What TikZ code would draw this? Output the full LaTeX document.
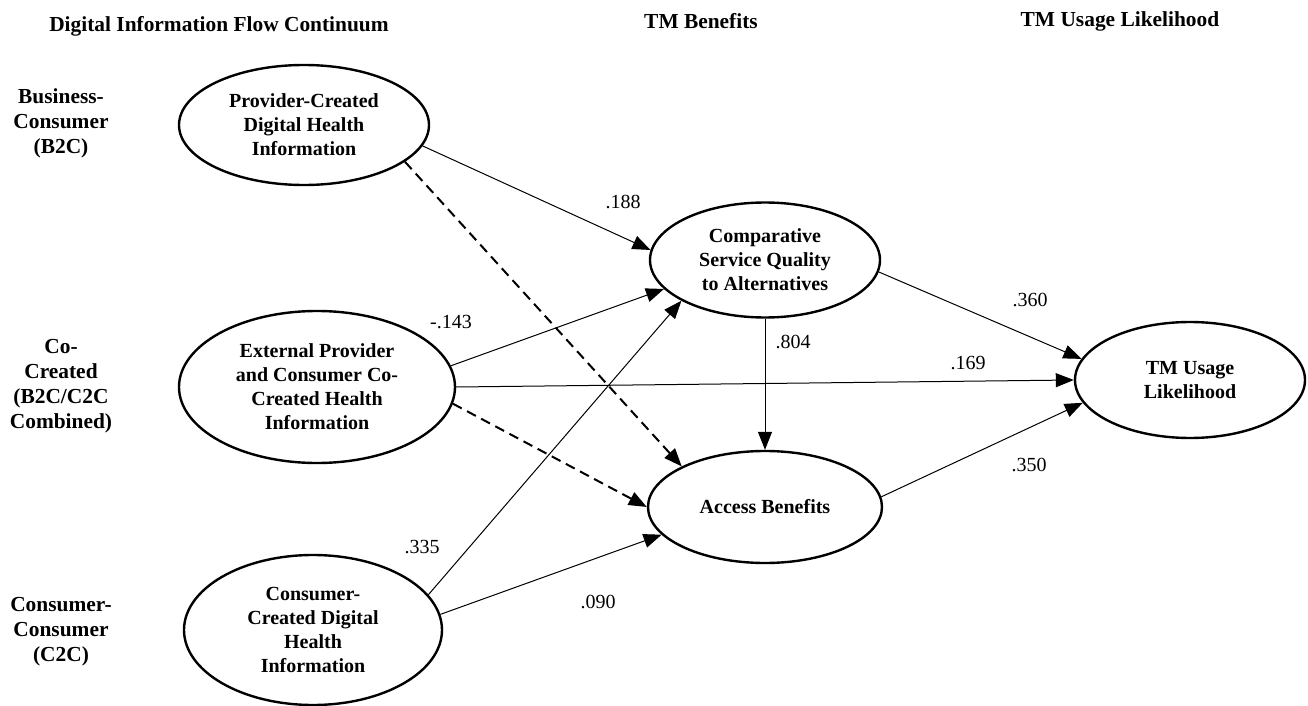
\documentclass[tikz,border=0pt]{standalone}
\usepackage{fontspec}
\setmainfont{Liberation Serif}
\usetikzlibrary{arrows.meta,positioning,shapes.geometric}

\begin{document}
\begin{tikzpicture}[x=0.5pt, y=-0.5pt, >={Triangle[length=9pt,width=7pt]},
  font=\fontsize{10}{12}\selectfont,
  construct/.style={ellipse, draw, line width=1.2pt, inner sep=0pt, align=center, font=\fontsize{10}{12}\selectfont\bfseries},
  heading/.style={align=center, font=\fontsize{10.7}{12.5}\selectfont\bfseries},
  coef/.style={inner sep=0pt},
  sigpath/.style={->, line width=0.5pt},
  nspath/.style={->, line width=1pt, dash pattern=on 5pt off 3pt}]

  \useasboundingbox (0,0) rectangle (1308,706);

  % Column and row headings
  \node[heading] (hflow) at (219, 26) {Digital Information Flow Continuum};
  \node[heading] (hben) at (701, 21) {TM Benefits};
  \node[heading] (huse) at (1120, 21) {TM Usage Likelihood};
  \node[heading] (rB2C) at (61, 123) {Business-\\Consumer\\(B2C)};
  \node[heading] (rCo) at (61, 386) {Co-\\Created\\(B2C/C2C\\Combined)};
  \node[heading] (rC2C) at (61, 632) {Consumer-\\Consumer\\(C2C)};

  % Define constructs
  \node[construct, minimum width=125pt, minimum height=60pt] (PC) at (304, 125) {Provider-Created\\Digital Health\\Information};
  \node[construct, minimum width=138pt, minimum height=76pt] (CoC) at (317, 387) {External Provider\\and Consumer Co-\\Created Health\\Information};
  \node[construct, minimum width=129pt, minimum height=75pt] (CC) at (313, 630) {Consumer-\\Created Digital\\Health\\Information};
  \node[construct, minimum width=115pt, minimum height=57.5pt] (CSQ) at (765, 260) {Comparative\\Service Quality\\to Alternatives};
  \node[construct, minimum width=117pt, minimum height=56pt] (AB) at (765, 507) {Access Benefits};
  \node[construct, minimum width=115pt, minimum height=58pt] (TMU) at (1190, 380) {TM Usage\\Likelihood};

  % Path coefficients
  \node[coef] (c1) at (623, 202) {.188};
  \node[coef] (c2) at (451, 322) {-.143};
  \node[coef] (c3) at (793, 342) {.804};
  \node[coef] (c4) at (1030, 300) {.360};
  \node[coef] (c5) at (968, 363) {.169};
  \node[coef] (c6) at (1029, 465) {.350};
  \node[coef] (c7) at (422, 547) {.335};
  \node[coef] (c8) at (598, 602) {.090};

  % Draw paths between constructs
  \draw[sigpath] (PC.-10.5) to (CSQ.175);
  \draw[nspath] (PC.-20) to (AB.154);
  \draw[sigpath] (CoC.9) to (CSQ.196.5);
  \draw[sigpath] (CoC.east) to (TMU.west);
  \draw[nspath] (CoC.-7.4) to (AB.180);
  \draw[sigpath] (CC.17) to (CSQ.206);
  \draw[sigpath] (CC.7.6) to (AB.195);
  \draw[sigpath] (CSQ.south) to (AB.north);
  \draw[sigpath] (CSQ.-6) to (TMU.169);
  \draw[sigpath] (AB.5) to (TMU.192);

\end{tikzpicture}
\end{document}
